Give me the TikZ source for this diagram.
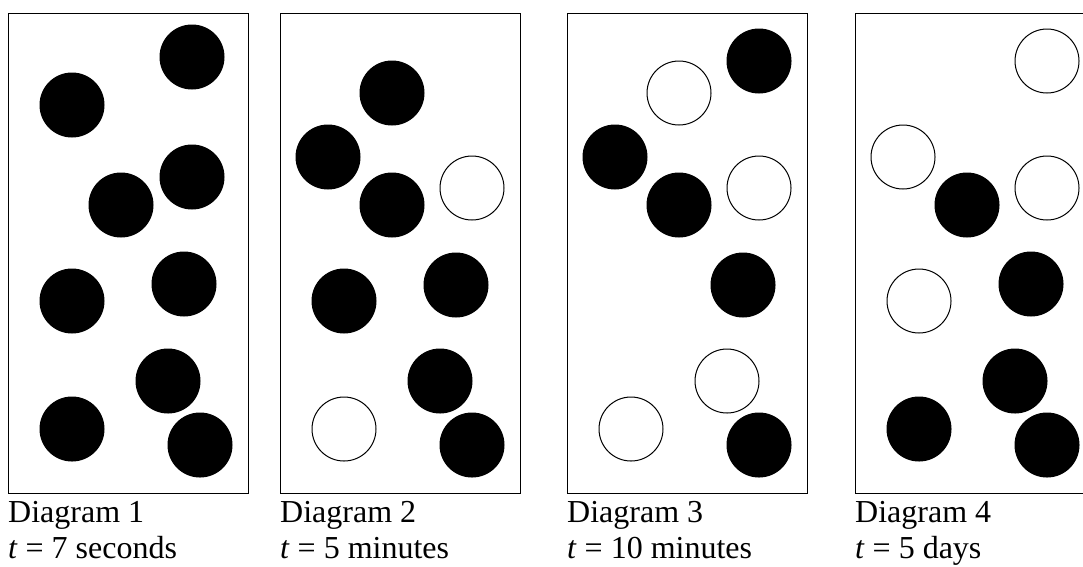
\documentclass[tikz,border=0pt]{standalone}
\usepackage{fontspec}
\setmainfont{Liberation Serif}
\usetikzlibrary{positioning}

\begin{document}
\begin{tikzpicture}[x=1pt,y=-1pt,
  frame/.style={draw,line width=1.3pt,minimum width=240pt,minimum height=480pt,inner sep=0pt,anchor=north west},
  ball/.style={circle,draw,line width=1pt,minimum size=64pt,inner sep=0pt},
  caption/.style={align=left,inner sep=0pt,font=\fontsize{32}{36}\selectfont}]
\useasboundingbox (0,0) rectangle (1083,566);
\clip (0,0) rectangle (1083,566);
% the four containers
\node[frame] (box1) at (8,13) {};
\node[frame] (box2) at (280,13) {};
\node[frame] (box3) at (567,13) {};
\node[frame] (box4) at (855,13) {};
% particles, black = not yet changed, white = changed
\begin{scope}[shift={(box1.north west)}]
\foreach \cx/\cy/\f [count=\i] in {64/92/black,184/44/black,113/192/black,184/164/black,64/288/black,176/271/black,160/368/black,64/416/black,192/432/black}
  \node[ball,fill=\f] (p1-\i) at (\cx,\cy) {};
\end{scope}
\begin{scope}[shift={(box2.north west)}]
\foreach \cx/\cy/\f [count=\i] in {112/80/black,48/144/black,112/192/black,192/175/white,64/288/black,176/272/black,160/368/black,64/416/white,192/432/black}
  \node[ball,fill=\f] (p2-\i) at (\cx,\cy) {};
\end{scope}
\begin{scope}[shift={(box3.north west)}]
\foreach \cx/\cy/\f [count=\i] in {112/80/white,192/48/black,48/144/black,112/192/black,192/175/white,176/272/black,160/368/white,64/416/white,192/432/black}
  \node[ball,fill=\f] (p3-\i) at (\cx,\cy) {};
\end{scope}
\begin{scope}[shift={(box4.north west)}]
\foreach \cx/\cy/\f [count=\i] in {192/48/white,48/144/white,112/192/black,192/175/white,64/288/white,176/271/black,160/368/black,64/416/black,192/432/black}
  \node[ball,fill=\f] (p4-\i) at (\cx,\cy) {};
\end{scope}
% captions
\node[caption,below right=7pt and 0pt of box1.south west] (cap1) {Diagram 1\\\textit{t} = 7 seconds};
\node[caption,below right=7pt and 0pt of box2.south west] (cap2) {Diagram 2\\\textit{t} = 5 minutes};
\node[caption,below right=7pt and 0pt of box3.south west] (cap3) {Diagram 3\\\textit{t} = 10 minutes};
\node[caption,below right=7pt and 0pt of box4.south west] (cap4) {Diagram 4\\\textit{t} = 5 days};
\end{tikzpicture}
\end{document}
